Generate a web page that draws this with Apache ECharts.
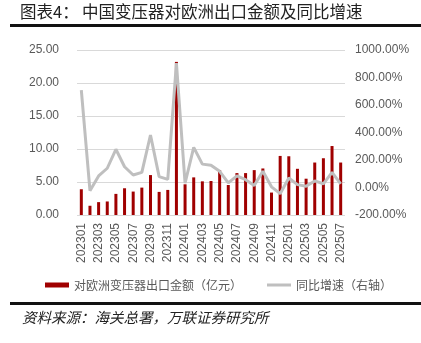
<!DOCTYPE html>
<html>
<head>
<meta charset="utf-8">
<script src="https://cdn.jsdelivr.net/npm/echarts@6/dist/echarts.min.js"></script>
<style>
  html, body { margin: 0; padding: 0; background: #fff; }
  #chart { width: 421px; height: 343px; }
</style>
</head>
<body>
<div id="chart"></div>
<script>
// Months, 2023-01 .. 2025-07
const months = [
  '202301','202302','202303','202304','202305','202306','202307','202308','202309','202310','202311','202312',
  '202401','202402','202403','202404','202405','202406','202407','202408','202409','202410','202411','202412',
  '202501','202502','202503','202504','202505','202506','202507'
];
// Transformer exports to Europe (100 million CNY)
const exportValue = [
  3.9, 1.4, 1.95, 2.05, 3.2, 4.05, 3.55, 4.15, 6.05, 3.5, 3.8, 23.2,
  4.65, 5.7, 5.1, 5.15, 6.8, 4.55, 6.35, 6.35, 6.8, 7.05, 3.4, 8.95,
  8.9, 7.0, 5.5, 7.95, 8.6, 10.45, 7.95
];
// Year-on-year growth (%)
const yoyGrowth = [
  709, -23, 84, 140, 278, 151, 91, 110, 382, 79, 59, 905,
  31, 292, 170, 162, 118, 33, 85, 57, 14, 118, 5, -45,
  69, 21, 9, 48, 27, 110, 27
];
const leftTicks = { min: 0, max: 25, interval: 5 };
const rightTicks = { min: -200, max: 1000, interval: 200 };

const barName = '对欧洲变压器出口金额（亿元）';
const lineName = '同比增速（右轴）';
const labelFont = 'Liberation Sans, Arial, sans-serif';
const cjkFont = 'Noto Sans CJK SC, sans-serif';

const chart = echarts.init(document.getElementById('chart'), null, { renderer: 'canvas' });
chart.setOption({
  animation: false,
  backgroundColor: '#ffffff',
  grid: { left: 77, right: 76, top: 50, bottom: 128 },
  legend: {
    left: 40, top: 274,
    itemWidth: 24, itemHeight: 5, itemGap: 25,
    textStyle: { fontFamily: cjkFont, fontSize: 12, color: '#595959' },
    data: [
      { name: barName, icon: 'rect' },
      { name: lineName, icon: 'path://M0,0 L24,0 L24,3 L0,3 Z' }
    ]
  },
  xAxis: {
    type: 'category',
    data: months,
    axisLine: { show: false },
    axisTick: { show: false },
    axisLabel: {
      interval: 1, rotate: 90, margin: 8,
      fontFamily: labelFont, fontSize: 12, color: '#595959'
    }
  },
  yAxis: [
    {
      type: 'value',
      min: leftTicks.min, max: leftTicks.max, interval: leftTicks.interval,
      axisLine: { show: false }, axisTick: { show: false },
      splitLine: { lineStyle: { color: '#d9d9d9', width: 1 } },
      axisLabel: {
        margin: 18, fontFamily: labelFont, fontSize: 12, color: '#595959',
        formatter: v => v.toFixed(2)
      }
    },
    {
      type: 'value',
      min: rightTicks.min, max: rightTicks.max, interval: rightTicks.interval,
      axisLine: { show: false }, axisTick: { show: false },
      splitLine: { show: false },
      axisLabel: {
        margin: 10, fontFamily: labelFont, fontSize: 12, color: '#595959',
        formatter: v => v.toFixed(2) + '%'
      }
    }
  ],
  series: [
    {
      name: barName, type: 'bar', yAxisIndex: 0,
      data: exportValue, barWidth: 3,
      itemStyle: { color: '#a00000' }
    },
    {
      name: lineName, type: 'line', yAxisIndex: 1,
      data: yoyGrowth, symbol: 'none',
      lineStyle: { color: '#bfbfbf', width: 3 },
      itemStyle: { color: '#bfbfbf' }
    }
  ],
  graphic: [
    {
      type: 'text', left: 20, top: 3,
      style: { text: '图表4：', font: '16.5px ' + cjkFont, fill: '#222' }
    },
    {
      type: 'text', left: 82, top: 3,
      style: { text: '中国变压器对欧洲出口金额及同比增速', font: '16.5px ' + cjkFont, fill: '#222' }
    },
    {
      type: 'rect', shape: { x: 10, y: 24, width: 411, height: 3 },
      style: { fill: '#111' }
    },
    {
      type: 'rect', shape: { x: 10, y: 302, width: 411, height: 3 },
      style: { fill: '#111' }
    },
    {
      type: 'text', left: 22, top: 310,
      style: { text: '资料来源：海关总署，万联证券研究所', font: 'italic 14.5px ' + cjkFont, fill: '#222' }
    }
  ]
});
</script>
</body>
</html>
